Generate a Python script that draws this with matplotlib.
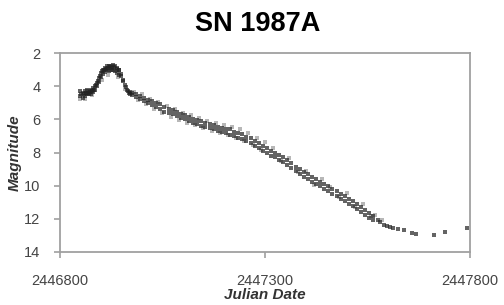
import matplotlib
matplotlib.use('Agg')
import matplotlib.pyplot as plt

plt.rcParams['font.family'] = ['Liberation Sans', 'DejaVu Sans']

# SN 1987A light curve
jd = [2446850, 2446850, 2446852, 2446855, 2446855, 2446858, 2446860, 2446860,
      2446863, 2446865, 2446865, 2446868, 2446870, 2446870, 2446873, 2446875,
      2446875, 2446878, 2446880, 2446880, 2446883, 2446885, 2446885, 2446888,
      2446890, 2446890, 2446893, 2446895, 2446895, 2446898, 2446900, 2446900,
      2446903, 2446905, 2446905, 2446908, 2446910, 2446910, 2446913, 2446915,
      2446915, 2446918, 2446920, 2446920, 2446923, 2446925, 2446925, 2446928,
      2446930, 2446930, 2446933, 2446935, 2446935, 2446938, 2446940, 2446940,
      2446943, 2446945, 2446945, 2446948, 2446950, 2446953, 2446955, 2446958,
      2446960, 2446963, 2446965, 2446968, 2446970, 2446972,
      2446975, 2446975, 2446985, 2446985, 2446995, 2446995, 2447005, 2447005,
      2447015, 2447015, 2447025, 2447025, 2447035, 2447035, 2447045, 2447045,
      2447055, 2447055, 2447065, 2447065, 2447075, 2447075, 2447085, 2447085,
      2447095, 2447095, 2447105, 2447105, 2447115, 2447115, 2447125, 2447125,
      2447135, 2447135, 2447145, 2447145, 2447155, 2447155, 2447165, 2447165,
      2447175, 2447175, 2447185, 2447185, 2447195, 2447195, 2447205, 2447205,
      2447215, 2447215, 2447225, 2447225, 2447235, 2447235, 2447245, 2447245,
      2447255, 2447255, 2447265, 2447265, 2447275, 2447275, 2447285, 2447285,
      2447295, 2447295, 2447305, 2447305, 2447315, 2447315, 2447325, 2447325,
      2447335, 2447335, 2447345, 2447345, 2447355, 2447355, 2447365, 2447365,
      2447375, 2447375, 2447385, 2447385, 2447395, 2447395, 2447405, 2447405,
      2447415, 2447415, 2447425, 2447425, 2447435, 2447435, 2447445, 2447445,
      2447455, 2447455, 2447465, 2447465, 2447475, 2447475, 2447485, 2447485,
      2447495, 2447495, 2447505, 2447505, 2447515, 2447515, 2447525, 2447525,
      2447535, 2447535, 2447545, 2447545, 2447555, 2447555, 2447565, 2447565,
      2447575, 2447580, 2447590, 2447598, 2447605, 2447612,
      2447625, 2447640, 2447660, 2447668, 2447712, 2447740, 2447793]
mag = [4.3, 4.6, 4.5, 4.4, 4.7, 4.5, 4.3, 4.6,
       4.4, 4.2, 4.5, 4.4, 4.3, 4.5, 4.35, 4.2,
       4.45, 4.3, 4.1, 4.35, 4.2, 4.0, 4.25, 3.9,
       3.8, 4.0, 3.7, 3.5, 3.75, 3.4, 3.2, 3.45,
       3.1, 3.0, 3.25, 3.0, 2.9, 3.15, 2.95, 2.8,
       3.05, 2.9, 2.8, 3.1, 2.85, 2.8, 3.05, 2.9,
       2.75, 3.0, 2.85, 2.8, 3.1, 2.95, 2.9, 3.2,
       3.05, 3.0, 3.3, 3.25, 3.4, 3.6, 3.7, 3.9,
       4.05, 4.2, 4.3, 4.4, 4.35, 4.45,
       4.4, 4.55, 4.5, 4.65, 4.6, 4.75, 4.7, 4.9,
       4.85, 5.0, 4.9, 5.15, 5.0, 5.25, 5.1, 5.35,
       5.25, 5.55, 5.35, 5.6, 5.45, 5.7, 5.55, 5.8,
       5.65, 5.9, 5.75, 6.0, 5.85, 6.1, 5.95, 6.2,
       6.05, 6.3, 6.1, 6.4, 6.2, 6.45, 6.3, 6.55,
       6.35, 6.6, 6.45, 6.7, 6.5, 6.75, 6.6, 6.85,
       6.6, 6.95, 6.75, 7.0, 6.8, 7.1, 6.9, 7.2,
       7.05, 7.3, 7.15, 7.45, 7.3, 7.6, 7.45, 7.75,
       7.6, 7.9, 7.75, 8.05, 7.9, 8.2, 8.0, 8.3,
       8.15, 8.45, 8.3, 8.6, 8.45, 8.75, 8.65, 8.95,
       8.85, 9.1, 9.0, 9.3, 9.15, 9.45, 9.3, 9.6,
       9.45, 9.75, 9.6, 9.9, 9.75, 10.05, 9.9, 10.2,
       10.05, 10.35, 10.2, 10.5, 10.35, 10.65, 10.5, 10.8,
       10.65, 10.95, 10.8, 11.1, 10.95, 11.25, 11.1, 11.4,
       11.3, 11.6, 11.45, 11.75, 11.65, 11.95, 11.85, 12.1,
       12.1, 12.2, 12.35, 12.45, 12.5, 12.55,
       12.6, 12.7, 12.85, 12.9, 12.95, 12.8, 12.55]

# fainter scattered measurements around the main band
jd_light = [2446848, 2446862, 2446878, 2446902, 2446918, 2446942, 2446958,
            2446980, 2446990, 2447000, 2447010, 2447020, 2447030, 2447040,
            2447050, 2447060, 2447070, 2447080, 2447090, 2447100, 2447110,
            2447120, 2447130, 2447140, 2447150, 2447160, 2447170, 2447180,
            2447190, 2447200, 2447210, 2447220, 2447230, 2447240, 2447250,
            2447260, 2447270, 2447280, 2447290, 2447300, 2447320, 2447340,
            2447360, 2447380, 2447400, 2447420, 2447440, 2447460, 2447480,
            2447500, 2447520, 2447540, 2447560, 2447570, 2447585]
mag_light = [4.8, 4.75, 4.55, 3.65, 3.3, 3.45, 4.15,
             4.35, 4.85, 4.5, 5.05, 4.75, 5.35, 4.95,
             5.6, 5.2, 5.85, 5.4, 6.05, 5.6, 6.2, 5.75,
             6.35, 5.9, 6.55, 6.1, 6.7, 6.2, 6.85, 6.35,
             6.95, 6.45, 7.1, 6.6, 7.3, 6.85, 7.55, 7.1,
             7.85, 7.35, 7.75, 8.5, 8.35, 9.2, 9.1, 9.95,
             9.6, 10.1, 10.7, 10.45, 11.3, 11.1, 11.85, 11.75, 12.1]

xticks = [2446800, 2447300, 2447800]
yticks = [2, 4, 6, 8, 10, 12, 14]

fig = plt.figure(figsize=(5.04, 3.05), dpi=100)
ax = fig.add_axes([0.119, 0.174, 0.813, 0.652])

ax.plot(jd_light, mag_light, 's', color='#888888', markersize=2.5, markeredgewidth=0, alpha=0.6)
ax.plot(jd, mag, 's', color='#222222', markersize=3, markeredgewidth=0, alpha=0.7)

ax.set_xlim(2446800, 2447800)
ax.set_ylim(14, 2)
ax.set_xticks(xticks)
ax.set_xticklabels([str(t) for t in xticks])
ax.set_yticks(yticks)

for s in ax.spines.values():
    s.set_color('#a0a0a0')
    s.set_linewidth(1.3)

ax.tick_params(axis='x', colors='#a0a0a0', labelcolor='#444444', length=4, width=1.2,
               pad=12, labelsize=10.5)
ax.tick_params(axis='y', colors='#a0a0a0', labelcolor='#444444', length=4, width=1.2,
               pad=10, labelsize=10.5)

fig.text(0.512, 0.921, 'SN 1987A', ha='center', va='center', fontsize=19.5,
         fontweight='bold')
ax.set_xlabel('Julian Date', fontsize=11, fontstyle='italic', fontweight='bold',
              color='#333333', labelpad=0)
ax.set_ylabel('Magnitude', fontsize=11, fontstyle='italic', fontweight='bold',
              color='#333333', labelpad=2)

plt.savefig('out.png', dpi=100)
